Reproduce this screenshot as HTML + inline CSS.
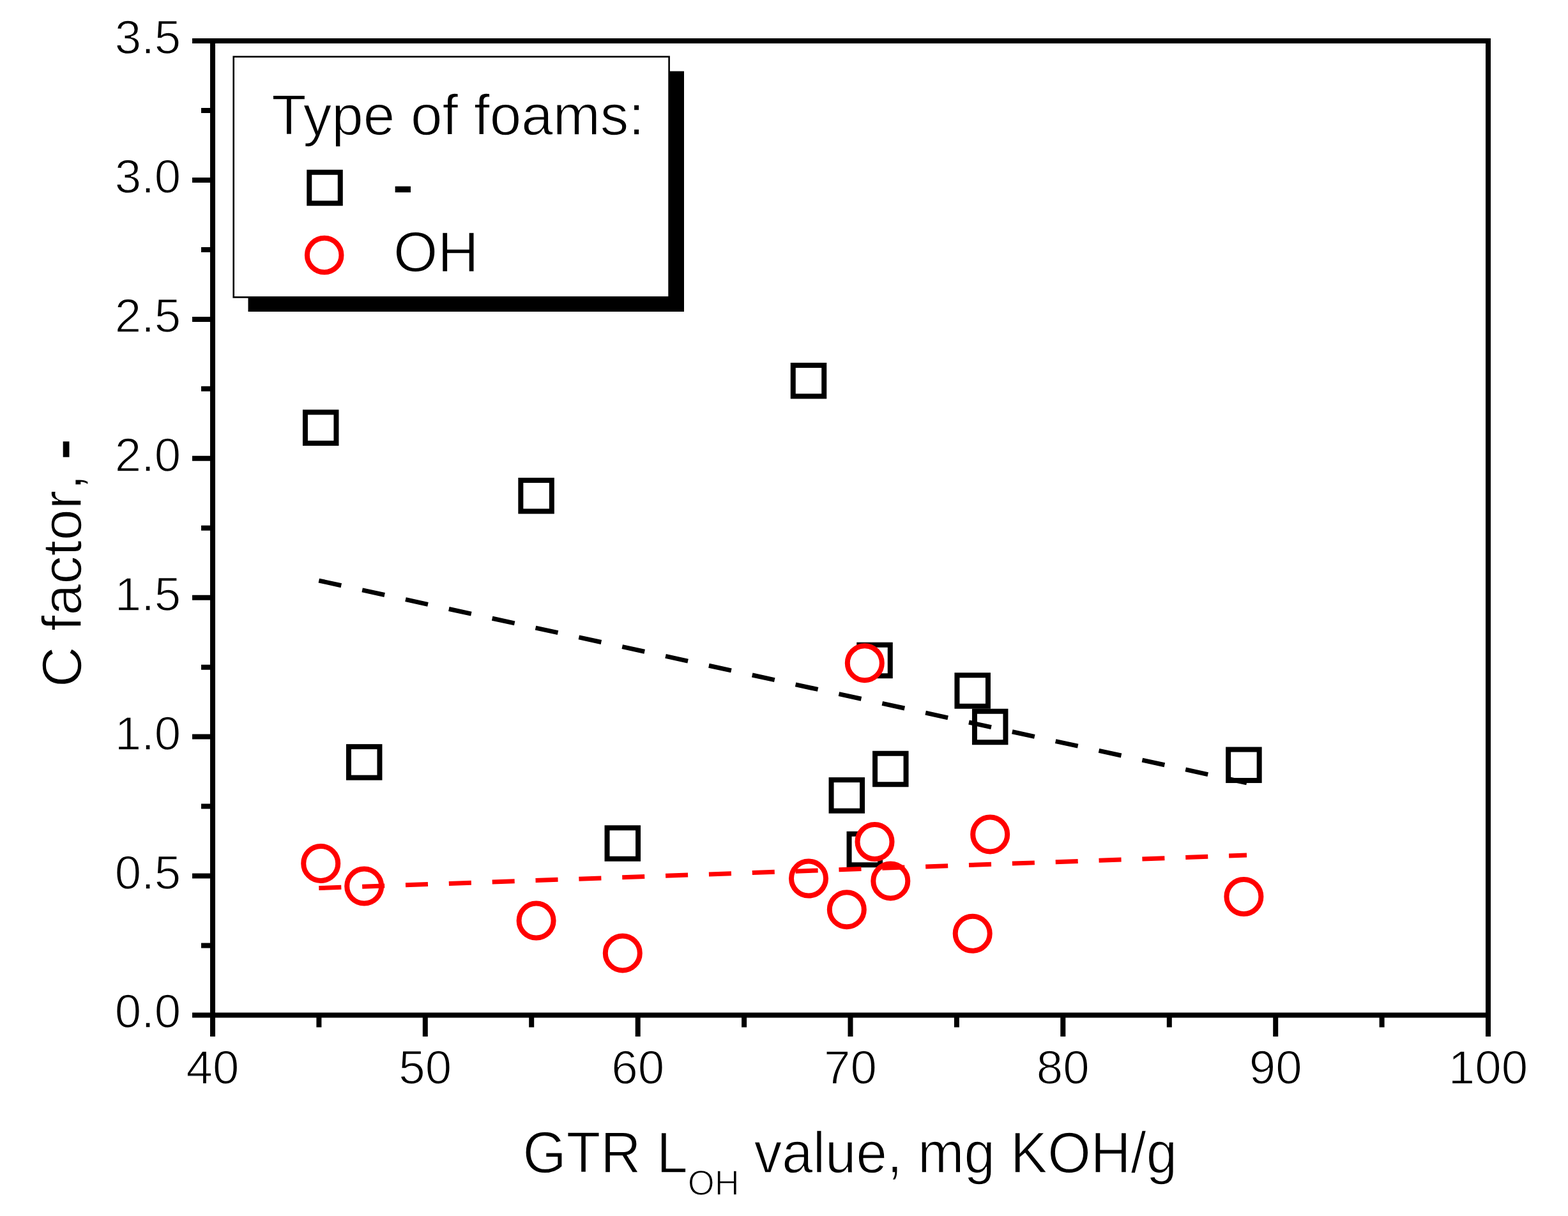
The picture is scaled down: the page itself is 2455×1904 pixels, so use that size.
<!DOCTYPE html><html><head><meta charset="utf-8"><title>C factor vs GTR LOH value</title>
<style>html,body{margin:0;padding:0;background:#fff;overflow:hidden;}svg{display:block;}</style></head><body>
<svg width="2455" height="1904" viewBox="0 0 2455 1904">
<rect x="0" y="0" width="2455" height="1904" fill="#fff"/>
<style>text{stroke:#fff;stroke-width:1.4px;}</style>
<path d="M333.0 1589.5V1623 M499.4 1589.5V1608.5 M665.8 1589.5V1623 M832.2 1589.5V1608.5 M998.7 1589.5V1623 M1165.1 1589.5V1608.5 M1331.5 1589.5V1623 M1497.9 1589.5V1608.5 M1664.3 1589.5V1623 M1830.8 1589.5V1608.5 M1997.2 1589.5V1623 M2163.6 1589.5V1608.5 M2330.0 1589.5V1623 M301 1589.5H333 M315 1480.5H333 M301 1371.6H333 M315 1262.6H333 M301 1153.6H333 M315 1044.7H333 M301 935.7H333 M315 826.8H333 M301 717.8H333 M315 608.8H333 M301 499.9H333 M315 390.9H333 M301 281.9H333 M315 173.0H333 M301 64.0H333" stroke="#000" stroke-width="8" fill="none"/>
<rect x="333.0" y="64.0" width="1997.0" height="1525.5" fill="none" stroke="#000" stroke-width="8"/>
<g font-family='"Liberation Sans", Arial, sans-serif' font-size="74.5" fill="#000">
<text x="333.0" y="1697" text-anchor="middle">40</text>
<text x="665.8" y="1697" text-anchor="middle">50</text>
<text x="998.7" y="1697" text-anchor="middle">60</text>
<text x="1331.5" y="1697" text-anchor="middle">70</text>
<text x="1664.3" y="1697" text-anchor="middle">80</text>
<text x="1997.2" y="1697" text-anchor="middle">90</text>
<text x="2330.0" y="1697" text-anchor="middle">100</text>
<text x="283.3" y="1609.4" text-anchor="end">0.0</text>
<text x="283.3" y="1391.5" text-anchor="end">0.5</text>
<text x="283.3" y="1173.5" text-anchor="end">1.0</text>
<text x="283.3" y="955.6" text-anchor="end">1.5</text>
<text x="283.3" y="737.7" text-anchor="end">2.0</text>
<text x="283.3" y="519.8" text-anchor="end">2.5</text>
<text x="283.3" y="301.8" text-anchor="end">3.0</text>
<text x="283.3" y="83.9" text-anchor="end">3.5</text>
</g>
<text font-family='"Liberation Sans", Arial, sans-serif' font-size="88" transform="translate(126.5 1076) rotate(-90)">C factor<tspan dx="5.5">, </tspan><tspan style="stroke:#000;stroke-width:3px">-</tspan></text>
<text font-family='"Liberation Sans", Arial, sans-serif' font-size="87.7" transform="translate(818.5 1835.7) scale(1 1.035)">GTR L<tspan font-size="54" dy="34.3">OH</tspan><tspan dy="-34.3" dx="-1" font-size="87"> value, mg KOH/g</tspan></text>
<rect x="388.5" y="111.5" width="682.5" height="376.5" fill="#000"/>
<rect x="365.7" y="88.8" width="681.9" height="376.6" fill="#fff" stroke="#000" stroke-width="2.6"/>
<text font-family='"Liberation Sans", Arial, sans-serif' font-size="89" x="425.3" y="210.8">Type of foams:</text>
<rect x="484.25" y="269.75" width="48.5" height="48.5" fill="none" stroke="#000" stroke-width="8"/>
<text font-family='"Liberation Sans", Arial, sans-serif' font-size="89" x="616" y="319.5" style="stroke:#000;stroke-width:2.6px">-</text>
<circle cx="507.7" cy="399.5" r="26.8" fill="none" stroke="#f00" stroke-width="8"/>
<text font-family='"Liberation Sans", Arial, sans-serif' font-size="89" x="616" y="425.4">OH</text>
<rect x="477.95" y="645.45" width="48.5" height="48.5" fill="#fff" stroke="#000" stroke-width="8"/>
<rect x="815.35" y="752.05" width="48.5" height="48.5" fill="#fff" stroke="#000" stroke-width="8"/>
<rect x="1241.75" y="571.95" width="48.5" height="48.5" fill="#fff" stroke="#000" stroke-width="8"/>
<rect x="545.95" y="1169.15" width="48.5" height="48.5" fill="#fff" stroke="#000" stroke-width="8"/>
<rect x="950.55" y="1296.25" width="48.5" height="48.5" fill="#fff" stroke="#000" stroke-width="8"/>
<rect x="1301.55" y="1221.15" width="48.5" height="48.5" fill="#fff" stroke="#000" stroke-width="8"/>
<rect x="1370.05" y="1179.75" width="48.5" height="48.5" fill="#fff" stroke="#000" stroke-width="8"/>
<rect x="1345.25" y="1009.75" width="48.5" height="48.5" fill="#fff" stroke="#000" stroke-width="8"/>
<rect x="1329.55" y="1305.75" width="48.5" height="48.5" fill="#fff" stroke="#000" stroke-width="8"/>
<rect x="1498.45" y="1057.25" width="48.5" height="48.5" fill="#fff" stroke="#000" stroke-width="8"/>
<rect x="1525.95" y="1113.75" width="48.5" height="48.5" fill="#fff" stroke="#000" stroke-width="8"/>
<rect x="1923.15" y="1173.55" width="48.5" height="48.5" fill="#fff" stroke="#000" stroke-width="8"/>
<circle cx="502.2" cy="1351.9" r="27" fill="#fff" stroke="#f00" stroke-width="8"/>
<circle cx="570.2" cy="1387.6" r="27" fill="#fff" stroke="#f00" stroke-width="8"/>
<circle cx="839.6" cy="1441.6" r="27" fill="#fff" stroke="#f00" stroke-width="8"/>
<circle cx="974.8" cy="1492.4" r="27" fill="#fff" stroke="#f00" stroke-width="8"/>
<circle cx="1266.0" cy="1375.6" r="27" fill="#fff" stroke="#f00" stroke-width="8"/>
<circle cx="1325.8" cy="1424.2" r="27" fill="#fff" stroke="#f00" stroke-width="8"/>
<circle cx="1353.8" cy="1038.2" r="27" fill="#fff" stroke="#f00" stroke-width="8"/>
<circle cx="1369.5" cy="1318.0" r="27" fill="#fff" stroke="#f00" stroke-width="8"/>
<circle cx="1394.3" cy="1379.4" r="27" fill="#fff" stroke="#f00" stroke-width="8"/>
<circle cx="1522.7" cy="1461.8" r="27" fill="#fff" stroke="#f00" stroke-width="8"/>
<circle cx="1550.2" cy="1306.4" r="27" fill="#fff" stroke="#f00" stroke-width="8"/>
<circle cx="1947.4" cy="1404.0" r="27" fill="#fff" stroke="#f00" stroke-width="8"/>
<path d="M499.3 909.1L1952 1225.8" stroke="#000" stroke-width="7" fill="none" stroke-dasharray="35.82 33.62"/>
<path d="M499.3 1390.6L1952 1339.1" stroke="#f00" stroke-width="7" fill="none" stroke-dasharray="35.02 32.87"/>
</svg></body></html>
